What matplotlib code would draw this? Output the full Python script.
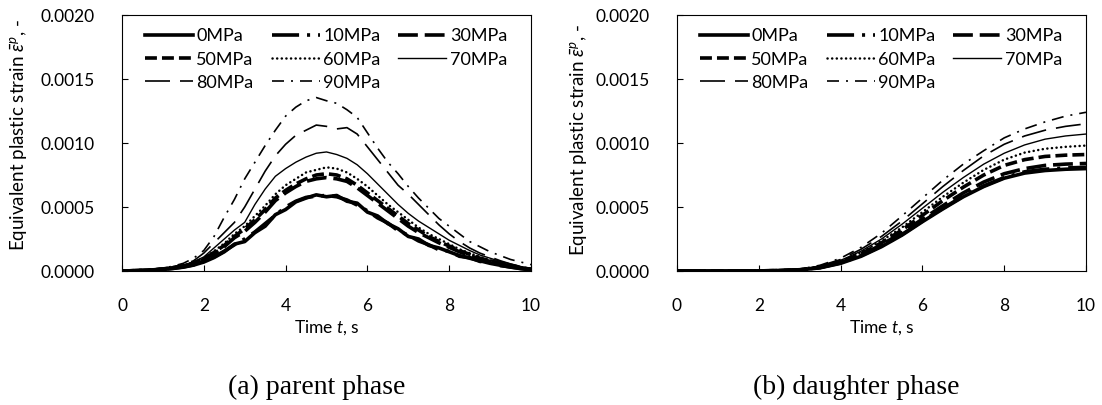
import numpy as np
import matplotlib
matplotlib.use("Agg")
import matplotlib.pyplot as plt
from matplotlib.ticker import FormatStrFormatter, MultipleLocator

plt.rcParams['font.family'] = ['Lato', 'DejaVu Sans']
plt.rcParams['mathtext.fontset'] = 'custom'
plt.rcParams['mathtext.rm'] = 'Lato'
plt.rcParams['mathtext.it'] = 'Lato:italic'
plt.rcParams['mathtext.bf'] = 'Lato:bold'

labels = ['0MPa', '10MPa', '30MPa', '50MPa', '60MPa', '70MPa', '80MPa', '90MPa']

# ---- (a) parent phase: time grid and strains (units of 1e-5)
t_parent = [i * 0.25 for i in range(41)]
parent_0 = [0, 0.2, 0.4, 0.7, 1.2, 2.0, 3.0, 4.6, 7.0, 10.5, 15, 21, 23, 30, 35, 44, 48, 54, 57, 59.5,
            58, 59, 54.5, 53, 46, 43, 37, 33, 27, 25, 20, 18, 15, 12, 10, 8, 6, 4.5, 3, 2, 1]
parent_10 = [0, 0.2, 0.4, 0.7, 1.3, 2.1, 3.2, 4.8, 7.5, 11, 15.5, 20.5, 25, 30.5, 37, 43.5, 50, 54.5, 57.5, 58.5,
             59, 58, 55.5, 51.5, 47, 41.5, 37.5, 31.5, 28, 23.5, 20.5, 16.5, 15.5, 11.5, 10.5, 7.5, 6.5, 4.2, 3.2, 1.8, 1]
parent_30 = [0, 0.2, 0.5, 0.9, 1.5, 2.5, 3.8, 5.8, 9, 13.5, 19, 26, 31, 38, 46, 55, 61, 66, 70, 72,
             73, 72, 70, 65, 59, 53, 47, 41, 35, 30, 26, 22, 18.5, 15, 12, 9.5, 7.5, 5.5, 4, 2.5, 1.2]
parent_50 = [0, 0.2, 0.5, 0.9, 1.6, 2.7, 4, 6.2, 9.5, 14.5, 20, 27, 33, 40, 48, 57, 63, 68, 72, 75,
             76, 75, 72, 67, 61, 55, 49, 43, 37, 32, 27, 23, 19.5, 16, 13, 10, 8, 6, 4.2, 2.7, 1.3]
parent_60 = [0, 0.2, 0.5, 1.0, 1.7, 2.9, 4.3, 6.6, 10, 15.5, 21.5, 29, 35, 43, 51, 60, 67, 72, 77, 79,
             81, 80, 77, 72, 66, 59, 52, 46, 40, 34, 29, 25, 21, 17, 14, 11, 8.5, 6.5, 4.5, 3, 1.5]
parent_70 = [0, 0.2, 0.5, 1.0, 1.8, 3.0, 4.6, 7.2, 11, 18, 25, 32, 38, 52, 64, 74, 80, 85, 89, 92,
             93, 91, 88, 83, 76, 68, 60, 52, 45, 39, 34, 29, 24, 20, 16, 12.5, 10, 7.5, 5.5, 3.5, 2]
parent_80 = [0, 0.3, 0.6, 1.1, 2, 3.3, 5, 8, 14, 22, 30, 38, 50, 64, 78, 90, 99, 106, 110, 114,
             113, 111, 112, 107, 97, 87, 77, 67, 60, 52, 44, 36, 29, 23, 18, 14, 11, 8, 5.5, 3.5, 2]
parent_90 = [0, 0.3, 0.7, 1.3, 2.3, 3.8, 6, 10, 16, 27, 42, 56, 72, 85, 98, 110, 121, 128, 133, 135.5,
             133, 131, 126, 120, 108, 96, 85, 76, 66, 57, 49, 41, 35, 29, 23, 19, 15, 12, 9, 7, 5]
parent_series = [parent_0, parent_10, parent_30, parent_50, parent_60, parent_70, parent_80, parent_90]

# ---- (b) daughter phase (units of 1e-5)
t_daughter = [i * 0.5 for i in range(21)]
daughter_0 = [0, 0, 0, 0, 0.1, 0.3, 0.8, 2.5, 6, 11.5, 19, 28, 38.5, 48.5, 58, 66, 72.5, 76.5, 78.5, 79.5, 80]
daughter_10 = [0, 0, 0, 0, 0.1, 0.3, 0.9, 2.7, 6.3, 12, 19.5, 28.5, 39, 49, 58.5, 66.5, 73, 77.5, 79.5, 80.5, 81]
daughter_30 = [0, 0, 0, 0, 0.1, 0.3, 0.9, 2.8, 6.6, 12.5, 20.5, 30, 40.5, 51, 61, 69.5, 76, 80, 82.5, 83.5, 84]
daughter_50 = [0, 0, 0, 0, 0.1, 0.3, 1, 3, 7, 13.5, 22, 32, 43.5, 55, 65.5, 75, 82.5, 87, 89.5, 90.5, 91]
daughter_60 = [0, 0, 0, 0, 0.1, 0.4, 1.1, 3.3, 7.6, 14.5, 23.5, 34, 46, 58, 69, 79, 87, 92.5, 95.5, 97, 98]
daughter_70 = [0, 0, 0, 0, 0.1, 0.4, 1.2, 3.6, 8.3, 15.5, 25, 36.5, 49, 61.5, 73, 83.5, 92, 98.5, 103, 105.5, 107]
daughter_80 = [0, 0, 0, 0, 0.1, 0.4, 1.3, 4, 9, 17, 27, 39, 52.5, 66, 78.5, 90, 99, 105.5, 110, 113, 115]
daughter_90 = [0, 0, 0, 0, 0.1, 0.5, 1.5, 4.5, 10, 18.5, 29.5, 43, 57, 71, 83.5, 94, 104, 111, 116.5, 121, 124]
daughter_series = [daughter_0, daughter_10, daughter_30, daughter_50, daughter_60, daughter_70, daughter_80, daughter_90]

SCALE = 1e-5

styles = [
    dict(lw=2.6, ls='-'),
    dict(lw=2.6, dashes=(7.5, 2.2, 0.85, 2.2)),
    dict(lw=2.6, dashes=(5.5, 1.9)),
    dict(lw=2.6, dashes=(3.3, 1.4)),
    dict(lw=1.8, dashes=(0.05, 1.8), dash_capstyle='round'),
    dict(lw=1.0, ls='-'),
    dict(lw=1.2, dashes=(15, 6)),
    dict(lw=1.2, dashes=(7.2, 4.2, 1.2, 4.2)),
]

fig = plt.figure(figsize=(11.02, 4.05), dpi=100)
W, H = 1102, 405
axes = [fig.add_axes([122 / W, 1 - 271 / H, 409 / W, 256 / H]),
        fig.add_axes([677 / W, 1 - 271 / H, 409 / W, 256 / H])]

ylabel = r'Equivalent plastic strain $\bar{\varepsilon}^{p}$, -'
for k, (ax, tt, series) in enumerate(zip(axes, [t_parent, t_daughter], [parent_series, daughter_series])):
    lines = []
    for vals, st, lab in zip(series, styles, labels):
        ln, = ax.plot(tt, np.array(vals) * SCALE, color='black', label=lab, **st)
        lines.append(ln)
    ax.set_xlim(0, 10)
    ax.set_ylim(0, 0.002)
    ax.xaxis.set_major_locator(MultipleLocator(2))
    ax.yaxis.set_major_locator(MultipleLocator(0.0005))
    ax.yaxis.set_major_formatter(FormatStrFormatter('%.4f'))
    ax.tick_params(direction='in', length=4, width=0.8, labelsize=12.5, pad=19.5, colors='black')
    for sp in ax.spines.values():
        sp.set_linewidth(0.8)
    ax.set_xlabel(r'Time $t$, s', fontsize=12.5, labelpad=3)
    ax.set_ylabel(ylabel, fontsize=13.5)
    order = [0, 3, 6, 1, 4, 7, 2, 5]
    ax.legend([lines[i] for i in order], [labels[i] for i in order], ncol=3, loc='upper left',
              bbox_to_anchor=(0.056, 0.948), frameon=False, borderpad=0, borderaxespad=0,
              handlelength=2.65, handletextpad=0.2, columnspacing=1.0, labelspacing=0.4,
              fontsize=13)

axes[0].yaxis.set_label_coords(-0.228, 0.53)
axes[1].yaxis.set_label_coords(-0.214, 0.51)

fig.text(317 / W, 1 - 387 / H, '(a) parent phase', ha='center', va='center',
         family='Liberation Serif', fontsize=20)
fig.text(856 / W, 1 - 387 / H, '(b) daughter phase', ha='center', va='center',
         family='Liberation Serif', fontsize=20)

fig.savefig('out.png', dpi=100)
